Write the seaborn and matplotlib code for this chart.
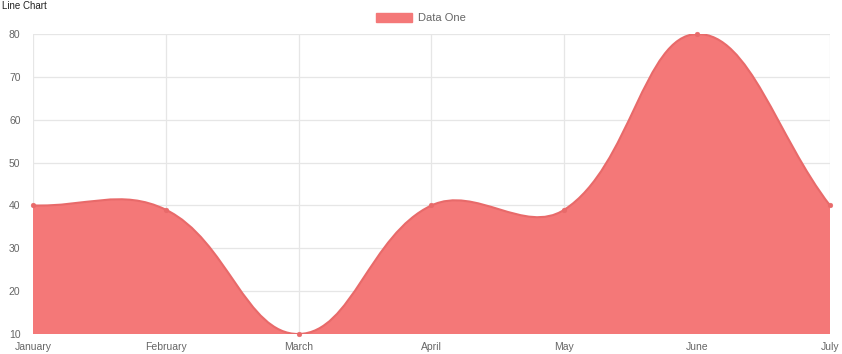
import matplotlib
matplotlib.use("Agg")
import matplotlib.pyplot as plt
import seaborn as sns
import numpy as np
import pandas as pd
from matplotlib.path import Path
from matplotlib.patches import PathPatch, Patch

months = ["January", "February", "March", "April", "May", "June", "July"]
values = [40, 39, 10, 40, 39, 80, 40]
y_ticks = [10, 20, 30, 40, 50, 60, 70, 80]

fill_color = "#F47878"
edge_color = "#E86A6A"

sns.set_style("white")
plt.rcParams["font.family"] = ["Liberation Sans", "DejaVu Sans"]

fig = plt.figure(figsize=(8.42, 3.54), dpi=100)
ax = fig.add_axes([33 / 842, 20 / 354, (830 - 33) / 842, 300 / 354])

df = pd.DataFrame({"x": range(len(months)), "Month": months, "value": values})
ax.set_xlim(0, len(months) - 1)
ax.set_ylim(min(y_ticks), max(y_ticks))
fig.canvas.draw()


def spline_path(xs, ys, tension=0.4):
    # bezier control points like chart.js, computed in pixel space
    pts = ax.transData.transform(np.column_stack([xs, ys]))
    n = len(pts)
    verts = [pts[0]]
    codes = [Path.MOVETO]
    ctrl = []
    for i in range(n):
        prev = pts[max(i - 1, 0)]
        cur = pts[i]
        nxt = pts[min(i + 1, n - 1)]
        d01 = np.hypot(*(cur - prev))
        d12 = np.hypot(*(nxt - cur))
        tot = d01 + d12
        s01 = d01 / tot if tot else 0
        s12 = d12 / tot if tot else 0
        c_prev = cur - tension * s01 * (nxt - prev)
        c_next = cur + tension * s12 * (nxt - prev)
        ctrl.append((c_prev, c_next))
    for i in range(1, n):
        verts += [ctrl[i - 1][1], ctrl[i][0], pts[i]]
        codes += [Path.CURVE4] * 3
    verts = ax.transData.inverted().transform(np.array(verts))
    return verts, codes


verts, codes = spline_path(df["x"].values, df["value"].values)
base = min(y_ticks)
fill_verts = np.vstack([verts, [[df["x"].iloc[-1], base], [df["x"].iloc[0], base], verts[0]]])
fill_codes = codes + [Path.LINETO, Path.LINETO, Path.CLOSEPOLY]
ax.add_patch(PathPatch(Path(fill_verts, fill_codes), facecolor=fill_color, edgecolor="none", zorder=2))
ax.add_patch(PathPatch(Path(verts, codes), facecolor="none", edgecolor=edge_color, lw=1.5, zorder=3))

sns.scatterplot(data=df, x="x", y="value", ax=ax, color=edge_color, s=12, edgecolor=edge_color,
                zorder=4, legend=False, clip_on=False)

ax.set_xticks(df["x"])
ax.set_xticklabels(months)
ax.set_yticks(y_ticks)
ax.set_yticklabels([str(v) for v in y_ticks])
ax.grid(True, color="#E6E6E6", lw=0.9, zorder=0)
ax.set_axisbelow(True)
for s in ax.spines.values():
    s.set_visible(False)
ax.tick_params(axis="both", length=0, labelsize=7.5, colors="#666666")
ax.tick_params(axis="x", pad=6)
ax.tick_params(axis="y", pad=9)
ax.set_xlabel("")
ax.set_ylabel("")

fig.legend(handles=[Patch(facecolor=fill_color, edgecolor=fill_color, label="Data One")],
           loc="center", bbox_to_anchor=(0.5, 1 - 18 / 354), frameon=False,
           handlelength=3.2, handleheight=0.9, fontsize=8, labelcolor="#666666",
           handletextpad=0.6)
fig.text(0.002, 0.998, "Line Chart", ha="left", va="top", fontsize=7, color="#222222")

fig.savefig("out.png", dpi=100)
